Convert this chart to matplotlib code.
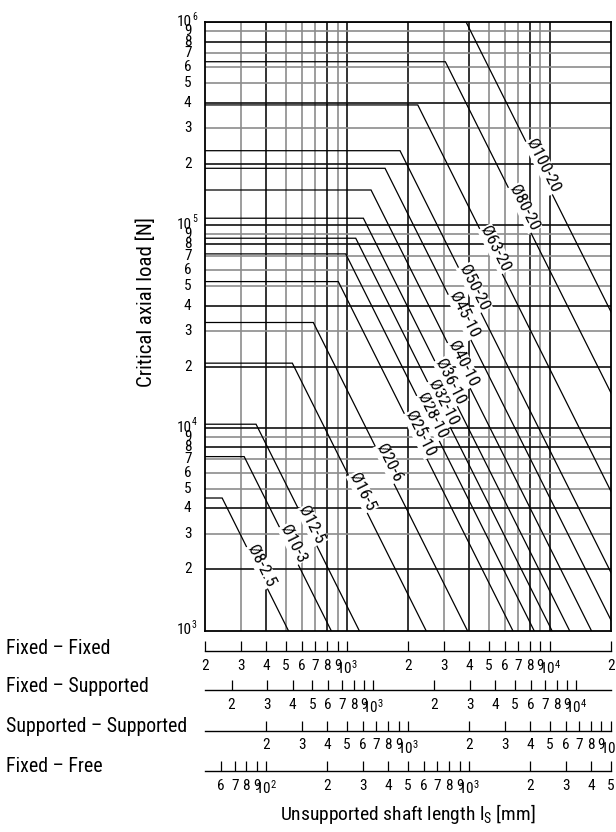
import numpy as np
import matplotlib
matplotlib.use("Agg")
import matplotlib.pyplot as plt
from matplotlib import font_manager
from matplotlib.ticker import FixedLocator, FixedFormatter, NullLocator
from matplotlib.transforms import blended_transform_factory, ScaledTranslation

# Shaft curves: horizontal at max load up to the knee, then Euler drop to 1000 N
shaft_labels = ["Ø8-2.5", "Ø10-3", "Ø12-5", "Ø16-5", "Ø20-6", "Ø25-10", "Ø28-10",
                "Ø32-10", "Ø36-10", "Ø40-10", "Ø45-10", "Ø50-20", "Ø63-20",
                "Ø80-20", "Ø100-20"]
max_load = [4500, 7200, 10400, 20800, 33000, 52500, 71900, 85900, 107800,
            148500, 190000, 232000, 390000, 637000, 1000000]
knee_length = [243, 312, 357, 539, 684, 908, 988, 1107, 1207, 1317, 1544,
               1830, 2238, 3062, 3873]
end_length = [515, 837, 1151, 2458, 3930, 6579, 8377, 10260, 12530, 16050,
              21280, 27870, 44200, 77280, 122500]
label_length = [361, 518, 640, 1134, 1537, 2185, 2514, 2846, 3088, 3569, 3597,
                4039, 5139, 7118, 8873]

# grid (Fixed-Fixed length scale / load scale)
grid_x = [300, 400, 500, 600, 700, 800, 900, 1000, 2000, 3000, 4000, 5000,
          6000, 7000, 8000, 9000, 10000]
grid_y = [2e3, 3e3, 4e3, 5e3, 6e3, 7e3, 8e3, 9e3, 1e4, 2e4, 3e4, 4e4, 5e4,
          6e4, 7e4, 8e4, 9e4, 1e5, 2e5, 3e5, 4e5, 5e5, 6e5, 7e5, 8e5, 9e5]
y_tick_vals = [1e3] + grid_y + [1e6]

# bearing arrangements: name, range of the scale, tick values, tick labels
ff_ticks = [200, 300, 400, 500, 600, 700, 800, 900, 1000, 2000, 3000, 4000,
            5000, 6000, 7000, 8000, 9000, 10000, 20000]
ff_labels = ["2", "3", "4", "5", "6", "7", "8", "9", "$10^3$", "2", "3", "4",
             "5", "6", "7", "8", "9", "$10^4$", "2"]
fs_ticks = [200, 300, 400, 500, 600, 700, 800, 900, 1000, 2000, 3000, 4000,
            5000, 6000, 7000, 8000, 9000, 10000]
fs_labels = ["2", "3", "4", "5", "6", "7", "8", "9", "$10^3$", "2", "3", "4",
             "5", "6", "7", "8", "9", "$10^4$"]
ss_ticks = [200, 300, 400, 500, 600, 700, 800, 900, 1000, 2000, 3000, 4000,
            5000, 6000, 7000, 8000, 9000, 10000]
ss_labels = ["2", "3", "4", "5", "6", "7", "8", "9", "$10^3$", "2", "3", "4",
             "5", "6", "7", "8", "9", "$10^4$"]
fr_ticks = [60, 70, 80, 90, 100, 200, 300, 400, 500, 600, 700, 800, 900, 1000,
            2000, 3000, 4000, 5000]
fr_labels = ["6", "7", "8", "9", "$10^2$", "2", "3", "4", "5", "6", "7", "8",
             "9", "$10^3$", "2", "3", "4", "5"]
scale_names = ["Fixed – Fixed", "Fixed – Supported", "Supported – Supported",
               "Fixed – Free"]
scale_lims = [(200, 20000), (148, 14800), (100, 10000), (50, 5000)]
scale_ticks = [ff_ticks, fs_ticks, ss_ticks, fr_ticks]
scale_labels = [ff_labels, fs_labels, ss_labels, fr_labels]

FONT = "DejaVu Sans"
for cand in ["Liberation Sans Narrow", "Roboto Condensed"]:
    try:
        font_manager.findfont(cand, fallback_to_default=False)
        FONT = cand
        break
    except Exception:
        pass
plt.rcParams["font.family"] = [FONT, "DejaVu Sans"]
plt.rcParams["mathtext.fontset"] = "custom"
plt.rcParams["mathtext.rm"] = FONT
plt.rcParams["mathtext.it"] = FONT
plt.rcParams["mathtext.default"] = "regular"

W, H = 616, 832
fig = plt.figure(figsize=(W / 100, H / 100), dpi=100)


def fx(px):
    return px / W


def fy(py):
    return 1 - py / H


L, R, T, B = 205, 610.7, 22, 630.5
ax = fig.add_axes([fx(L), fy(B), fx(R) - fx(L), fy(T) - fy(B)])
ax.set_xscale("log")
ax.set_yscale("log")
ax.set_xlim(200, 20000)
ax.set_ylim(1e3, 1e6)
for a in (ax.xaxis, ax.yaxis):
    a.set_major_locator(NullLocator())
    a.set_minor_locator(NullLocator())
for s in ax.spines.values():
    s.set_linewidth(1.3)
    s.set_zorder(6)


def dark(v):
    m = round(v / 10 ** np.floor(np.log10(v) + 1e-9))
    return m in (1, 2, 4, 8)


for v in grid_x:
    ax.axvline(v, color="#111111" if dark(v) else "#8c8c8c", lw=1.2, zorder=1)
for v in grid_y:
    ax.axhline(v, color="#111111" if dark(v) else "#8c8c8c", lw=1.2, zorder=1)

# labels sit just above-right of their line (perpendicular nudge)
nudge = ax.transData + ScaledTranslation(4.5 / 100, 2.3 / 100, fig.dpi_scale_trans)
for name, p, kn, en, lab in zip(shaft_labels, max_load, knee_length,
                                end_length, label_length):
    xs = [200, kn, en]
    ys = [p, p, 1000]
    ax.plot(xs, ys, color="black", lw=0.9, zorder=3, solid_joinstyle="miter")
    ly = 10 ** np.interp(np.log10(lab), np.log10(xs[1:]), np.log10(ys[1:]))
    ax.text(lab, ly, name, transform=nudge, rotation=-63.43,
            rotation_mode="anchor", ha="center", va="center", fontsize=12.5,
            zorder=5, bbox=dict(facecolor="white", edgecolor="none", pad=0.5))

# load tick labels
tr = blended_transform_factory(fig.transFigure, ax.transData)
sup = tr + ScaledTranslation(0, 5.5 / 100, fig.dpi_scale_trans)
for v in y_tick_vals:
    e = int(np.floor(np.log10(v) + 1e-9))
    m = round(v / 10 ** e)
    if m == 1:
        ax.text(fx(191.5), v, "10", transform=tr, ha="right", va="center",
                fontsize=11, clip_on=False)
        ax.text(fx(192), v, str(e), transform=sup, ha="left", va="center",
                fontsize=7, clip_on=False)
    else:
        ax.text(fx(191.5), v, str(m), transform=tr, ha="right", va="center",
                fontsize=11, clip_on=False)

# length scales for the four bearing arrangements
line_y = [651, 690.3, 730.7, 771]
name_y = [648, 686, 726, 766]
for name, lim, ticks, labels, ly, ny in zip(scale_names, scale_lims, scale_ticks,
                                            scale_labels, line_y, name_y):
    sax = fig.add_axes([fx(L), fy(ly), fx(R) - fx(L), 12 / H])
    sax.set_xscale("log")
    sax.set_xlim(*lim)
    sax.patch.set_visible(False)
    for k in ("top", "left", "right"):
        sax.spines[k].set_visible(False)
    sax.spines["bottom"].set_linewidth(1.0)
    sax.yaxis.set_major_locator(NullLocator())
    sax.xaxis.set_major_locator(FixedLocator(ticks))
    sax.xaxis.set_major_formatter(FixedFormatter(labels))
    sax.xaxis.set_minor_locator(NullLocator())
    sax.tick_params(axis="x", direction="in", length=7, width=0.9, pad=5.5,
                    labelsize=11)
    fig.text(fx(6), fy(ny), name, ha="left", va="center", fontsize=14.3)

fig.text(fx(408), fy(814), "Unsupported shaft length l$_\\mathrm{S}$ [mm]",
         ha="center", va="center", fontsize=14)
fig.text(fx(146), fy(302), "Critical axial load [N]", rotation=90,
         ha="center", va="center", fontsize=15)

fig.savefig("out.png", dpi=100)
